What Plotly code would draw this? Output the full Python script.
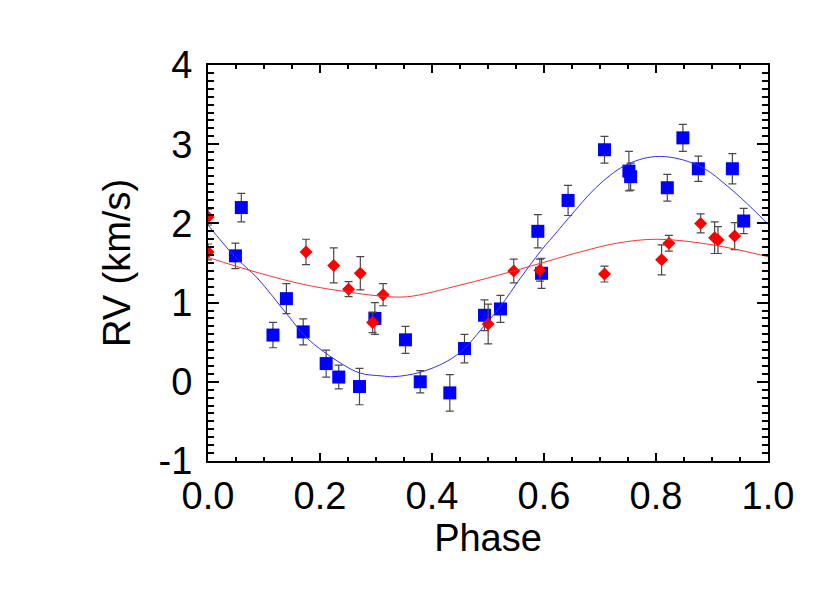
import plotly.graph_objects as go

# primary (blue squares)
phase_a = [0.049, 0.0595, 0.116, 0.140, 0.170, 0.211, 0.2335, 0.2705, 0.298, 0.3526,
           0.379, 0.4318, 0.458, 0.4937, 0.5223, 0.589, 0.5956, 0.643, 0.708, 0.7516,
           0.7547, 0.8202, 0.848, 0.8756, 0.9364, 0.9566]
rv_a = [1.59, 2.20, 0.59, 1.05, 0.63, 0.23, 0.06, -0.06, 0.80, 0.53,
        0.00, -0.14, 0.42, 0.84, 0.92, 1.90, 1.37, 2.29, 2.93, 2.66,
        2.59, 2.45, 3.08, 2.69, 2.69, 2.03]
err_a = [0.16, 0.18, 0.16, 0.19, 0.165, 0.17, 0.15, 0.23, 0.20, 0.17,
         0.14, 0.23, 0.18, 0.195, 0.17, 0.21, 0.19, 0.19, 0.17, 0.25,
         0.17, 0.17, 0.17, 0.16, 0.19, 0.16]

# secondary (red diamonds)
phase_b = [0.0, 0.0, 0.175, 0.2245, 0.251, 0.272, 0.294, 0.3127, 0.5003, 0.546,
           0.5926, 0.708, 0.810, 0.823, 0.8797, 0.9047, 0.9107, 0.9405]
rv_b = [2.08, 1.64, 1.64, 1.47, 1.17, 1.37, 0.75, 1.10, 0.73, 1.40,
        1.41, 1.36, 1.54, 1.75, 2.00, 1.82, 1.79, 1.84]
err_b = [0.10, 0.10, 0.16, 0.22, 0.095, 0.21, 0.13, 0.14, 0.25, 0.15,
         0.14, 0.10, 0.19, 0.10, 0.12, 0.20, 0.17, 0.17]

# orbit fit curves
fit_phase_a = [0.0, 0.048, 0.088, 0.142, 0.177, 0.237, 0.272, 0.309, 0.332, 0.379,
               0.427, 0.458, 0.487, 0.522, 0.558, 0.594, 0.624, 0.643, 0.70, 0.75,
               0.806, 0.876, 0.936, 1.0]
fit_rv_a = [1.98, 1.58, 1.31, 0.845, 0.55, 0.235, 0.109, 0.075, 0.065, 0.12,
            0.26, 0.42, 0.655, 0.95, 1.31, 1.65, 1.90, 2.06, 2.50, 2.75,
            2.846, 2.73, 2.42, 1.99]
fit_phase_b = [0.0, 0.088, 0.177, 0.267, 0.308, 0.356, 0.45, 0.546, 0.665, 0.73,
               0.802, 0.90, 1.0]
fit_rv_b = [1.57, 1.38, 1.22, 1.117, 1.083, 1.074, 1.22, 1.40, 1.64, 1.75,
            1.80, 1.73, 1.58]

font = "Liberation Sans, Arial, Helvetica, sans-serif"
ytickvals = [-1, 0, 1, 2, 3, 4]
yticktext = ['-1', '0', '1', '2', '3', '4']

fig = go.Figure()

fig.add_trace(go.Scatter(
    x=phase_a, y=rv_a, mode='markers',
    marker=dict(symbol='square', size=13, color='#0000ff'),
    error_y=dict(type='data', array=err_a, color='#4a4a4a', thickness=1.2, width=4),
))
fig.add_trace(go.Scatter(
    x=phase_b, y=rv_b, mode='markers',
    marker=dict(symbol='diamond', size=10, color='#ff0000'),
    error_y=dict(type='data', array=err_b, color='#4a4a4a', thickness=1.2, width=4),
))
fig.add_trace(go.Scatter(x=fit_phase_a, y=fit_rv_a, mode='lines',
                         line=dict(color='#3030ff', width=1, shape='spline')))
fig.add_trace(go.Scatter(x=fit_phase_b, y=fit_rv_b, mode='lines',
                         line=dict(color='#ff3030', width=1, shape='spline')))

fig.update_layout(
    width=822,
    height=585,
    margin=dict(l=200, r=62, t=57, b=132, pad=0),
    paper_bgcolor='white',
    plot_bgcolor='white',
    showlegend=False,
    font=dict(family=font, size=38, color='black'),
    xaxis=dict(
        range=[0, 1], dtick=0.2, tick0=0, tickformat='.1f',
        ticks='inside', ticklen=8, tickwidth=2, tickcolor='black',
        minor=dict(ticks='inside', ticklen=4, tickwidth=2, dtick=0.05, showgrid=False),
        mirror='allticks', showline=True, linewidth=2, linecolor='black',
        showgrid=False, zeroline=False,
        ticklabelstandoff=0,
        title=dict(text='Phase', standoff=4, font=dict(size=38)),
        tickfont=dict(size=38),
    ),
    yaxis=dict(
        range=[-1, 4], tickvals=ytickvals, ticktext=yticktext,
        ticks='inside', ticklen=11, tickwidth=2, tickcolor='black',
        minor=dict(ticks='inside', ticklen=6, tickwidth=2, dtick=0.1, showgrid=False),
        mirror='allticks', showline=True, linewidth=2, linecolor='black',
        showgrid=False, zeroline=False,
        ticklabelstandoff=6,
        title=dict(text='RV (km/s)', standoff=16, font=dict(size=38)),
        tickfont=dict(size=38),
    ),
)

fig.write_html("out.html")
